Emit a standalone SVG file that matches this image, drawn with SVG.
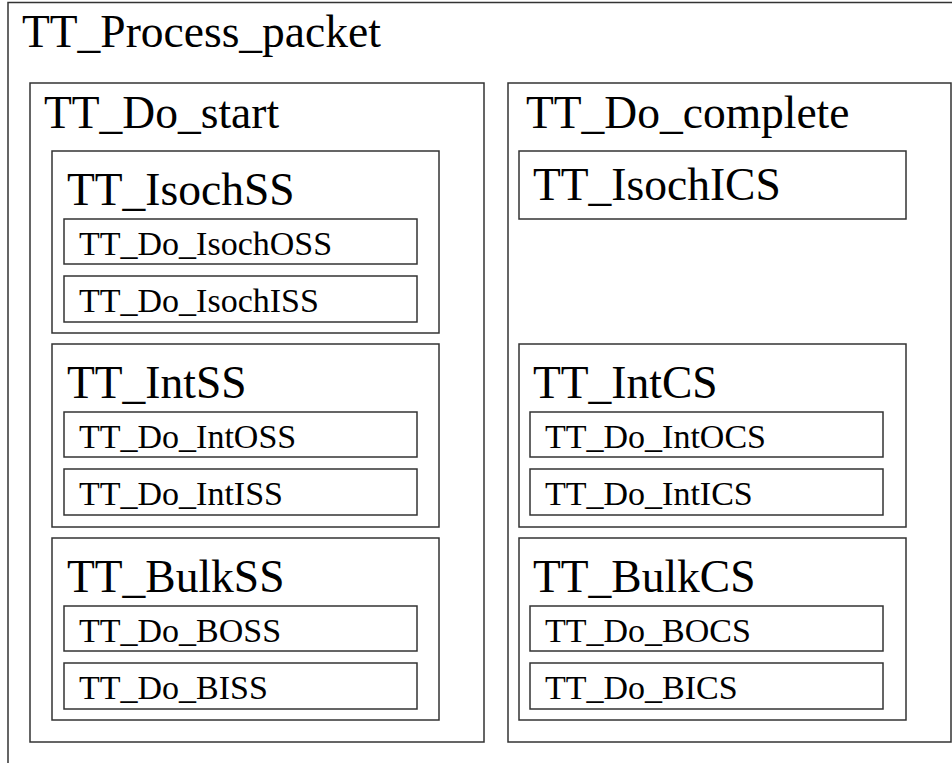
<svg xmlns="http://www.w3.org/2000/svg" width="952" height="763" viewBox="0 0 952 763">
<style>
rect{fill:none;stroke:#333;stroke-width:1.5}
text{font-family:"Liberation Serif","Times New Roman",serif;fill:#000}
.big{font-size:45.5px}
.small{font-size:34px}
</style>
<rect x="0" y="0" width="952" height="763" style="fill:#fff;stroke:none"/>
<g id="TT_Process_packet"><rect x="8" y="2.5" width="980" height="800"/><text class="big" x="22" y="47">TT_Process_packet</text></g>
<g id="TT_Do_start"><rect x="30" y="83" width="454" height="659"/><text class="big" x="44" y="128">TT_Do_start</text></g>
<g id="TT_IsochSS"><rect x="52" y="151" width="387" height="182"/><text class="big" x="67" y="205">TT_IsochSS</text></g>
<g id="TT_Do_IsochOSS"><rect x="64" y="219" width="353" height="45"/><text class="small" x="79" y="255">TT_Do_IsochOSS</text></g>
<g id="TT_Do_IsochISS"><rect x="64" y="276" width="353" height="46"/><text class="small" x="79" y="312">TT_Do_IsochISS</text></g>
<g id="TT_IntSS"><rect x="52" y="344" width="387" height="183"/><text class="big" x="67" y="398">TT_IntSS</text></g>
<g id="TT_Do_IntOSS"><rect x="64" y="412" width="353" height="45"/><text class="small" x="79" y="448">TT_Do_IntOSS</text></g>
<g id="TT_Do_IntISS"><rect x="64" y="469" width="353" height="46"/><text class="small" x="79" y="505">TT_Do_IntISS</text></g>
<g id="TT_BulkSS"><rect x="52" y="538" width="387" height="182"/><text class="big" x="67" y="592">TT_BulkSS</text></g>
<g id="TT_Do_BOSS"><rect x="64" y="606" width="353" height="45"/><text class="small" x="79" y="642">TT_Do_BOSS</text></g>
<g id="TT_Do_BISS"><rect x="64" y="663" width="353" height="46"/><text class="small" x="79" y="699">TT_Do_BISS</text></g>
<g id="TT_Do_complete"><rect x="508" y="83" width="443" height="659"/><text class="big" x="526" y="128">TT_Do_complete</text></g>
<g id="TT_IsochICS"><rect x="519" y="151" width="387" height="68"/><text class="big" x="533" y="200">TT_IsochICS</text></g>
<g id="TT_IntCS"><rect x="519" y="344" width="387" height="183"/><text class="big" x="533" y="398">TT_IntCS</text></g>
<g id="TT_Do_IntOCS"><rect x="530" y="412" width="353" height="45"/><text class="small" x="545" y="448">TT_Do_IntOCS</text></g>
<g id="TT_Do_IntICS"><rect x="530" y="469" width="353" height="46"/><text class="small" x="545" y="505">TT_Do_IntICS</text></g>
<g id="TT_BulkCS"><rect x="519" y="538" width="387" height="182"/><text class="big" x="533" y="592">TT_BulkCS</text></g>
<g id="TT_Do_BOCS"><rect x="530" y="606" width="353" height="45"/><text class="small" x="545" y="642">TT_Do_BOCS</text></g>
<g id="TT_Do_BICS"><rect x="530" y="663" width="353" height="46"/><text class="small" x="545" y="699">TT_Do_BICS</text></g>
<g id="connectors"/>
</svg>
